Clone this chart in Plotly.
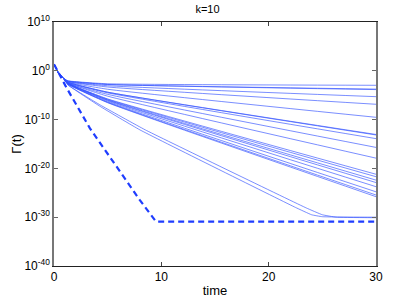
import plotly.graph_objects as go

# log10 values; each thin curve: times and values
head_t = [0, 0.4, 0.9]
head_v = [1.35, -0.4, -1.6]

fan_t13 = [-2.05, -2.1, -2.1, -2.2, -2.2, -2.3, -2.35, -2.35, -2.4, -2.5, -2.5,
           -2.55, -2.55, -2.6, -2.6, -2.65, -2.7, -2.7, -2.75]
fan_t5 = [-2.66, -2.8, -2.81, -3.06, -3.32, -3.78, -4.38, -4.39, -4.52, -4.83,
          -5.2, -5.76, -5.85, -5.97, -6.05, -6.2, -6.37, -6.48, -6.54]
fan_end = [-2.97, -3.75, -3.85, -5.3, -6.86, -9.53, -13.05, -13.15, -13.9, -15.7,
           -17.9, -21.2, -21.7, -22.4, -22.9, -23.75, -24.8, -25.45, -25.8]

curveA_t = [0, 0.4, 0.9, 1.3, 4.3, 8.0, 22.5, 24.0, 25.0, 30]
curveA_v = [1.35, -0.4, -1.6, -2.9, -7.3, -12.1, -28.0, -29.5, -29.9, -30.0]
curveB_t = [0, 0.4, 0.9, 1.3, 4.3, 8.5, 23.5, 25.0, 26.3, 30]
curveB_v = [1.35, -0.4, -1.6, -2.9, -7.0, -12.1, -28.1, -29.5, -30.0, -30.1]

dash_t = [0, 0.4, 1.2, 3.35, 8.0, 9.5, 30]
dash_v = [1.35, -0.4, -3.6, -11.8, -26.5, -30.9, -30.9]

ytick_exp = [10, 0, -10, -20, -30, -40]
xtick_vals = [0, 10, 20, 30]

thin = dict(color="rgba(50,80,255,0.72)", width=0.9)

fig = go.Figure()
for v13, v5, ve in zip(fan_t13, fan_t5, fan_end):
    t = head_t + [1.3, 5, 30]
    v = head_v + [v13, v5, ve]
    fig.add_trace(go.Scatter(x=t, y=[10 ** a for a in v], mode="lines",
                             line=dict(thin, shape="spline", smoothing=0.4),
                             showlegend=False, hoverinfo="skip"))
for t, v in [(curveA_t, curveA_v), (curveB_t, curveB_v)]:
    fig.add_trace(go.Scatter(x=t, y=[10 ** a for a in v], mode="lines",
                             line=dict(thin, shape="spline", smoothing=0.3),
                             showlegend=False, hoverinfo="skip"))
fig.add_trace(go.Scatter(x=dash_t, y=[10 ** a for a in dash_v], mode="lines",
                         line=dict(color="#1f3dff", width=2.2, dash="6px,4px"),
                         showlegend=False, hoverinfo="skip"))

font = "Liberation Sans, Arial, sans-serif"
fig.update_layout(
    width=415, height=299,
    margin=dict(l=54, r=39, t=22, b=33, autoexpand=False),
    paper_bgcolor="white", plot_bgcolor="white",
    font=dict(family=font, size=12, color="black"),
    title=dict(text="k=10", x=0.5, xanchor="center", y=0.982, yanchor="top",
               font=dict(size=11), automargin=False),
)
fig.update_xaxes(
    range=[0, 30], tickvals=xtick_vals, ticktext=[str(v) for v in xtick_vals],
    ticks="inside", ticklen=4, tickcolor="#444", mirror="ticks",
    showline=True, linecolor="#222", linewidth=1, showgrid=False, zeroline=False,
    title=dict(text="time", font=dict(size=13), standoff=2),
    tickfont=dict(size=12), automargin=False,
)
fig.update_yaxes(
    type="log", range=[-40, 10],
    tickvals=[10 ** e for e in ytick_exp],
    ticktext=["10<sup>%d</sup>" % e for e in ytick_exp],
    ticks="inside", ticklen=4, tickcolor="#666", mirror="ticks",
    showline=True, linecolor="#777", linewidth=1.5, showgrid=False, zeroline=False,
    title=dict(text="Γ(t)", font=dict(size=13), standoff=0),
    tickfont=dict(size=12), automargin=False,
)
fig.write_html("out.html", config={"displayModeBar": False},
               post_script="document.body.style.margin='0';")
